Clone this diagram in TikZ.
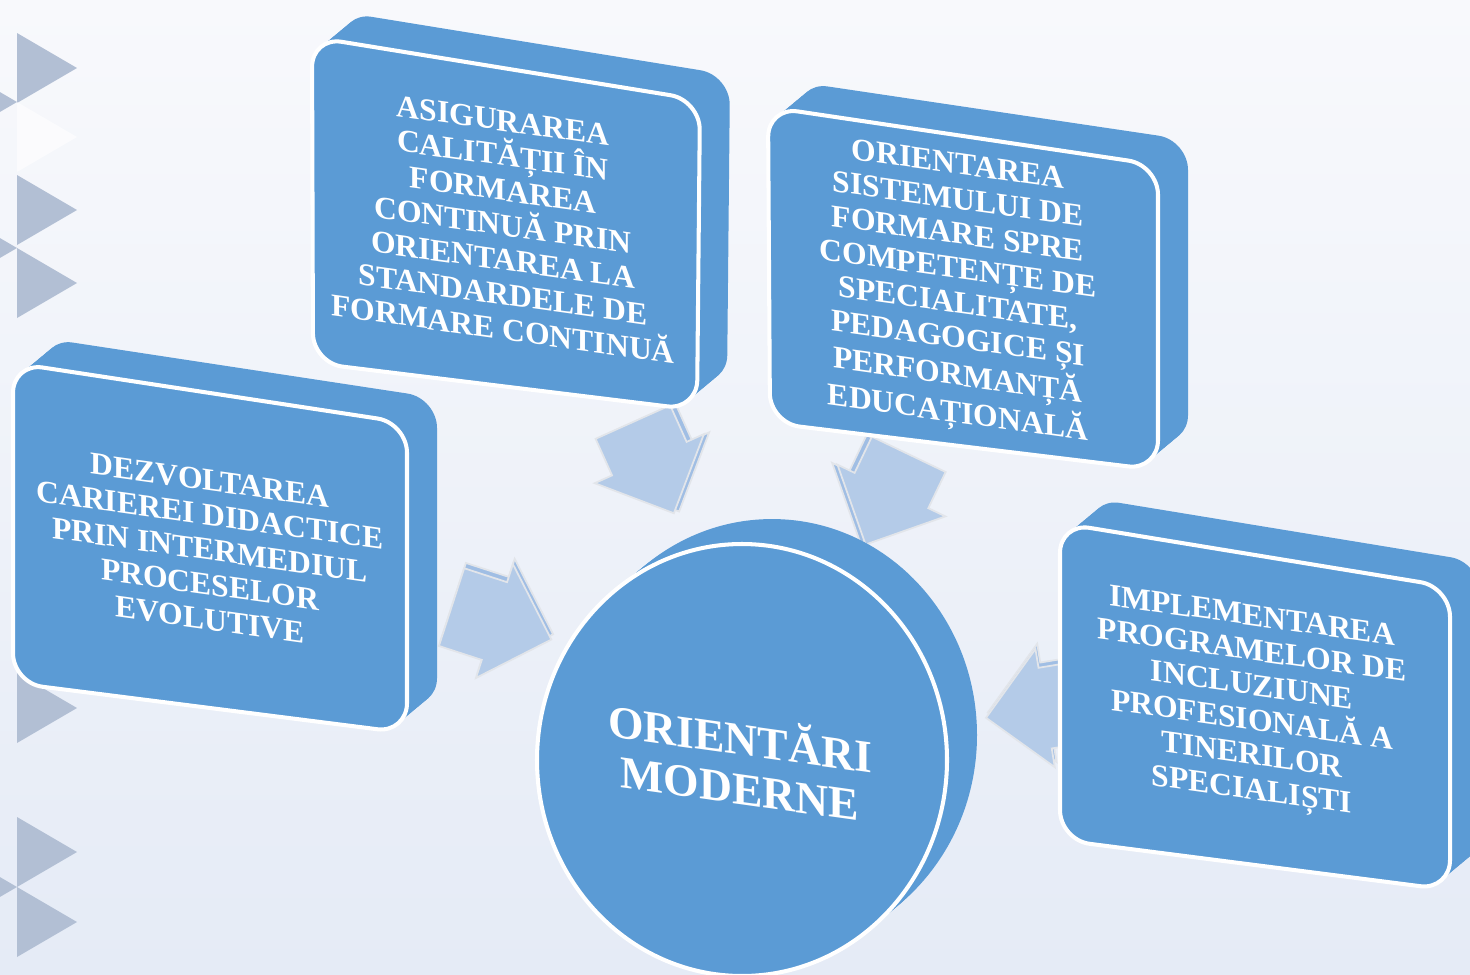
\documentclass[tikz,border=0pt]{standalone}
\usepackage{fontspec}
\setmainfont{Liberation Serif}
\usetikzlibrary{calc,shapes.arrows,shadows}

\definecolor{boxblue}{RGB}{91,155,213}
\definecolor{arrowblue}{RGB}{180,203,232}
\definecolor{arrowside}{RGB}{160,190,228}
\definecolor{arrowedge}{RGB}{226,229,234}
\definecolor{trigray}{RGB}{178,191,212}
\definecolor{bgtop}{RGB}{248,249,252}
\definecolor{bgbot}{RGB}{229,235,246}

% box with depth: corners TL, TR, BR, BL of the front face
\newcommand{\slabbox}[4]{%
  \foreach \k in {0,...,12}
    \fill[boxblue, shift={(2.5*\k,-2.08*\k)}, rounded corners=17pt]
      ($(#1)!0.5!(#4)$) -- (#1) -- (#2) -- (#3) -- (#4) -- cycle;
  \filldraw[fill=boxblue, draw=white, line width=2.3pt, rounded corners=17pt]
      ($(#1)!0.5!(#4)$) -- (#1) -- (#2) -- (#3) -- (#4) -- cycle;}

\begin{document}
\begin{tikzpicture}[x=0.02cm, y=-0.02cm,
    txt/.style={text=white, font=\bfseries\fontsize{18}{19.8}\selectfont, align=center, yslant=-0.14},
    hubtxt/.style={txt, font=\bfseries\fontsize{26}{28}\selectfont},
    flow/.style={single arrow, fill=arrowblue, draw=arrowedge, line width=1pt,
                 inner xsep=0pt, inner ysep=0.8cm, single arrow head extend=0.38cm,
                 single arrow tip angle=90},
    tri/.style={fill=trigray}]
    \useasboundingbox (0,0) rectangle (1470,974);
    \clip (0,0) rectangle (1470,974);

    % Background
    \shade [top color=bgtop, bottom color=bgbot] (0,0) rectangle (1470,974);
    \foreach \ty in {68,210,283,708,852,922}
        \fill [tri] (17,\ty-35) -- (77,\ty) -- (17,\ty+35) -- cycle;
    \foreach \ty in {102,248,887}
        \fill [tri] (-43,\ty-35) -- (17,\ty) -- (-43,\ty+35) -- cycle;
    \fill [white, opacity=0.6] (17,102) -- (77,137) -- (17,172) -- cycle;

    % Arrows {a1, a2, a3, a4}
    \node [flow, rotate=-65.8, minimum height=2cm,
           copy shadow={shadow xshift=3pt, shadow yshift=1pt, fill=arrowside, draw=arrowedge}]  (a1) at (645,449)  {};
    \node [flow, rotate=-115.6, minimum height=2cm,
           copy shadow={shadow xshift=-3pt, shadow yshift=1pt, fill=arrowside, draw=arrowedge}] (a2) at (896,481)  {};
    \node [flow, rotate=-18, minimum height=2.1cm,
           copy shadow={shadow xshift=1pt, shadow yshift=3pt, fill=arrowside, draw=arrowedge}]  (a3) at (482,617)  {};
    \node [flow, rotate=-170.7, minimum height=2.1cm,
           copy shadow={shadow xshift=1pt, shadow yshift=3pt, fill=arrowside, draw=arrowedge}]  (a4) at (1058,706) {};

    % Boxes {n1, n2, n3, n4}
    \slabbox{312,37}{700,100}{697,410}{313,363}
    \slabbox{768,107}{1158,165}{1158,470}{770,423}
    \slabbox{13,363}{407,423}{407,733}{13,683}
    \slabbox{1060,523}{1450,587}{1450,890}{1060,840}

    \node [txt] (n1) at (503,225)  {ASIGURAREA\\CALITĂȚII ÎN\\FORMAREA\\CONTINUĂ PRIN\\ORIENTAREA LA\\STANDARDELE DE\\FORMARE CONTINUĂ};
    \node [txt] (n2) at (958,292)  {ORIENTAREA\\SISTEMULUI DE\\FORMARE SPRE\\COMPETENȚE DE\\SPECIALITATE,\\PEDAGOGICE ȘI\\PERFORMANȚĂ\\EDUCAȚIONALĂ};
    \node [txt] (n3) at (210,550)  {DEZVOLTAREA\\CARIEREI DIDACTICE\\PRIN INTERMEDIUL\\PROCESELOR\\EVOLUTIVE};
    \node [txt] (n4) at (1252,706) {IMPLEMENTAREA\\PROGRAMELOR DE\\INCLUZIUNE\\PROFESIONALĂ A\\TINERILOR\\SPECIALIȘTI};

    % Hub
    \foreach \k in {0,...,12}
        \fill [boxblue] ($(742,760)+(2.5*\k,-2.08*\k)$) ellipse [x radius=205, y radius=216];
    \filldraw [fill=boxblue, draw=white, line width=2.3pt] (742,760) ellipse [x radius=205, y radius=216];
    \node [hubtxt] (hub) at (740,760) {ORIENTĂRI\\MODERNE};

\end{tikzpicture}
\end{document}
